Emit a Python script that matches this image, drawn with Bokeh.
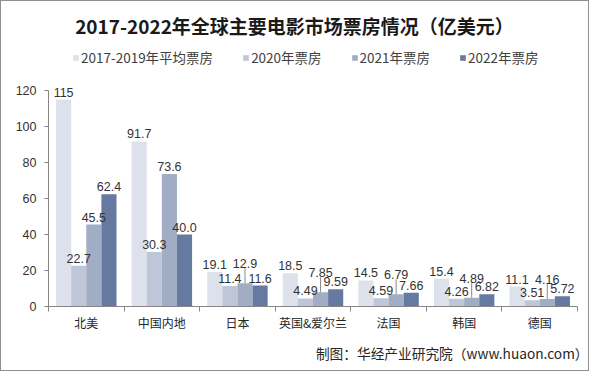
from bokeh.plotting import figure
from bokeh.models import (ColumnDataSource, Range1d, FixedTicker, LabelSet, Legend,
                          LegendItem, Title, Label)
from bokeh.core.properties import value
from bokeh.embed import file_html
from bokeh.resources import INLINE

categories = ["北美", "中国内地", "日本", "英国&爱尔兰", "法国", "韩国", "德国"]
series_names = ["2017-2019年平均票房", "2020年票房", "2021年票房", "2022年票房"]
avg_2017_2019 = [115, 91.7, 19.1, 18.5, 14.5, 15.4, 11.1]
box_2020 = [22.7, 30.3, 11.4, 4.49, 4.59, 4.26, 3.51]
box_2021 = [45.5, 73.6, 12.9, 7.85, 6.79, 4.89, 4.16]
box_2022 = [62.4, 40.0, 11.6, 9.59, 7.66, 6.82, 5.72]
y_ticks = [0, 20, 40, 60, 80, 100, 120]
y_max = 120

series = [avg_2017_2019, box_2020, box_2021, box_2022]
colors = ["#dde1eb", "#bfc6d7", "#a1adc5", "#6579a1"]
offsets = [-0.3, -0.1, 0.1, 0.3]
bar_w = 0.2

FONT = "Liberation Sans"
CJK = "Noto Sans CJK SC"

# layout (pixels)
W, H = 589, 371
LEFT, RIGHT, BOTTOM = 47, 13, 66
HEADER = 89                       # space above the 120 line, inside the frame
PLOT_H = H - BOTTOM - HEADER      # pixel height of the 0..120 span
px_per_unit = PLOT_H / y_max
y_top = y_max + HEADER / px_per_unit
FRAME_TOP_H = PLOT_H + HEADER     # frame height in px


def fmt(v):
    s = f"{v:#.3g}"
    return s.rstrip(".")


p = figure(width=W, height=H, x_range=Range1d(0, len(categories)), y_range=Range1d(0, y_top),
           output_backend="svg", toolbar_location=None,
           min_border_left=LEFT, min_border_right=RIGHT, min_border_top=0, min_border_bottom=BOTTOM)
p.outline_line_color = None
p.xgrid.visible = False
p.ygrid.visible = False
p.background_fill_color = "white"
p.border_fill_color = "white"
p.styles = {"border": "1px solid #8f8f8f"}

label_kw = dict(text_align="center", text_baseline="bottom",
                text_font=value(FONT), text_font_size=value("12.5px"),
                text_color=value("#333333"))

renderers = []
for i, vals in enumerate(series):
    xs = [k + 0.5 + offsets[i] for k in range(len(categories))]
    src = ColumnDataSource(dict(x=xs, top=vals, text=[fmt(v) for v in vals]))
    r = p.vbar(x="x", top="top", width=bar_w, bottom=0, source=src,
               fill_color=colors[i], line_color=None)
    renderers.append(r)
    if i == 2:
        lifted = [v < 15 for v in vals]
        ls_norm = ColumnDataSource(dict(x=[x for x, l in zip(xs, lifted) if not l],
                                        y=[v for v, l in zip(vals, lifted) if not l],
                                        text=[fmt(v) for v, l in zip(vals, lifted) if not l]))
        ls_up = ColumnDataSource(dict(x=[x for x, l in zip(xs, lifted) if l],
                                      y=[v for v, l in zip(vals, lifted) if l],
                                      y1=[v + 15 / px_per_unit for v, l in zip(vals, lifted) if l],
                                      text=[fmt(v) for v, l in zip(vals, lifted) if l]))
        p.segment(x0="x", y0="y", x1="x", y1="y1", source=ls_up, line_color="#8a8a8a", line_width=1)
        for s, yo in ((ls_norm, 3), (ls_up, 15)):
            p.add_layout(LabelSet(x="x", y="y", text="text", source=s, y_offset=yo, **label_kw))
    else:
        p.add_layout(LabelSet(x="x", y="top", text="text", source=src, y_offset=3, **label_kw))

# axes
xa = p.xaxis[0]
xa.ticker = FixedTicker(ticks=[k + 0.5 for k in range(len(categories))],
                        minor_ticks=list(range(len(categories) + 1)))
xa.major_label_overrides = {k + 0.5: c for k, c in enumerate(categories)}
xa.major_tick_line_color = None
xa.major_tick_out = 0
xa.minor_tick_out = 5
xa.minor_tick_in = 0
xa.minor_tick_line_color = "#868686"
xa.axis_line_color = "#868686"
xa.major_label_text_font = CJK
xa.major_label_text_font_size = "12px"
xa.major_label_text_color = "#262626"
xa.major_label_standoff = 2

ya = p.yaxis[0]
ya.ticker = FixedTicker(ticks=y_ticks)
ya.bounds = (0, y_max)
ya.minor_tick_line_color = None
ya.major_tick_out = 4
ya.major_tick_in = 0
ya.major_tick_line_color = "#868686"
ya.axis_line_color = "#868686"
ya.major_label_text_font = FONT
ya.major_label_text_font_size = "12.5px"
ya.major_label_text_color = "#333333"
ya.major_label_standoff = 8

# legend inside the header area of the frame
legend = Legend(items=[LegendItem(label=n, renderers=[r]) for n, r in zip(series_names, renderers)],
                orientation="horizontal", location=(24, FRAME_TOP_H - 57 - 9),
                glyph_width=7, glyph_height=7, label_standoff=2, spacing=29,
                label_text_font=CJK, label_text_font_size="13.5px", label_text_color="#404040",
                border_line_color=None, background_fill_alpha=0, padding=2, margin=0)
p.add_layout(legend, "center")

# title inside the header area
p.add_layout(Label(x=294 - 1 - LEFT, y=FRAME_TOP_H - 22 - 2, x_units="screen", y_units="screen",
                   text="2017-2022年全球主要电影市场票房情况（亿美元）",
                   text_align="center", text_baseline="middle",
                   text_font=CJK, text_font_size="19px", text_font_style="bold",
                   text_color="#1a1a1a"))

p.add_layout(Title(text="制图：华经产业研究院（www.huaon.com）", align="right",
                   text_font=CJK, text_font_size="13.7px", text_font_style="normal",
                   text_color="#262626", standoff=15, offset=-11), "below")

open("out.html", "w").write(file_html(p, INLINE))
